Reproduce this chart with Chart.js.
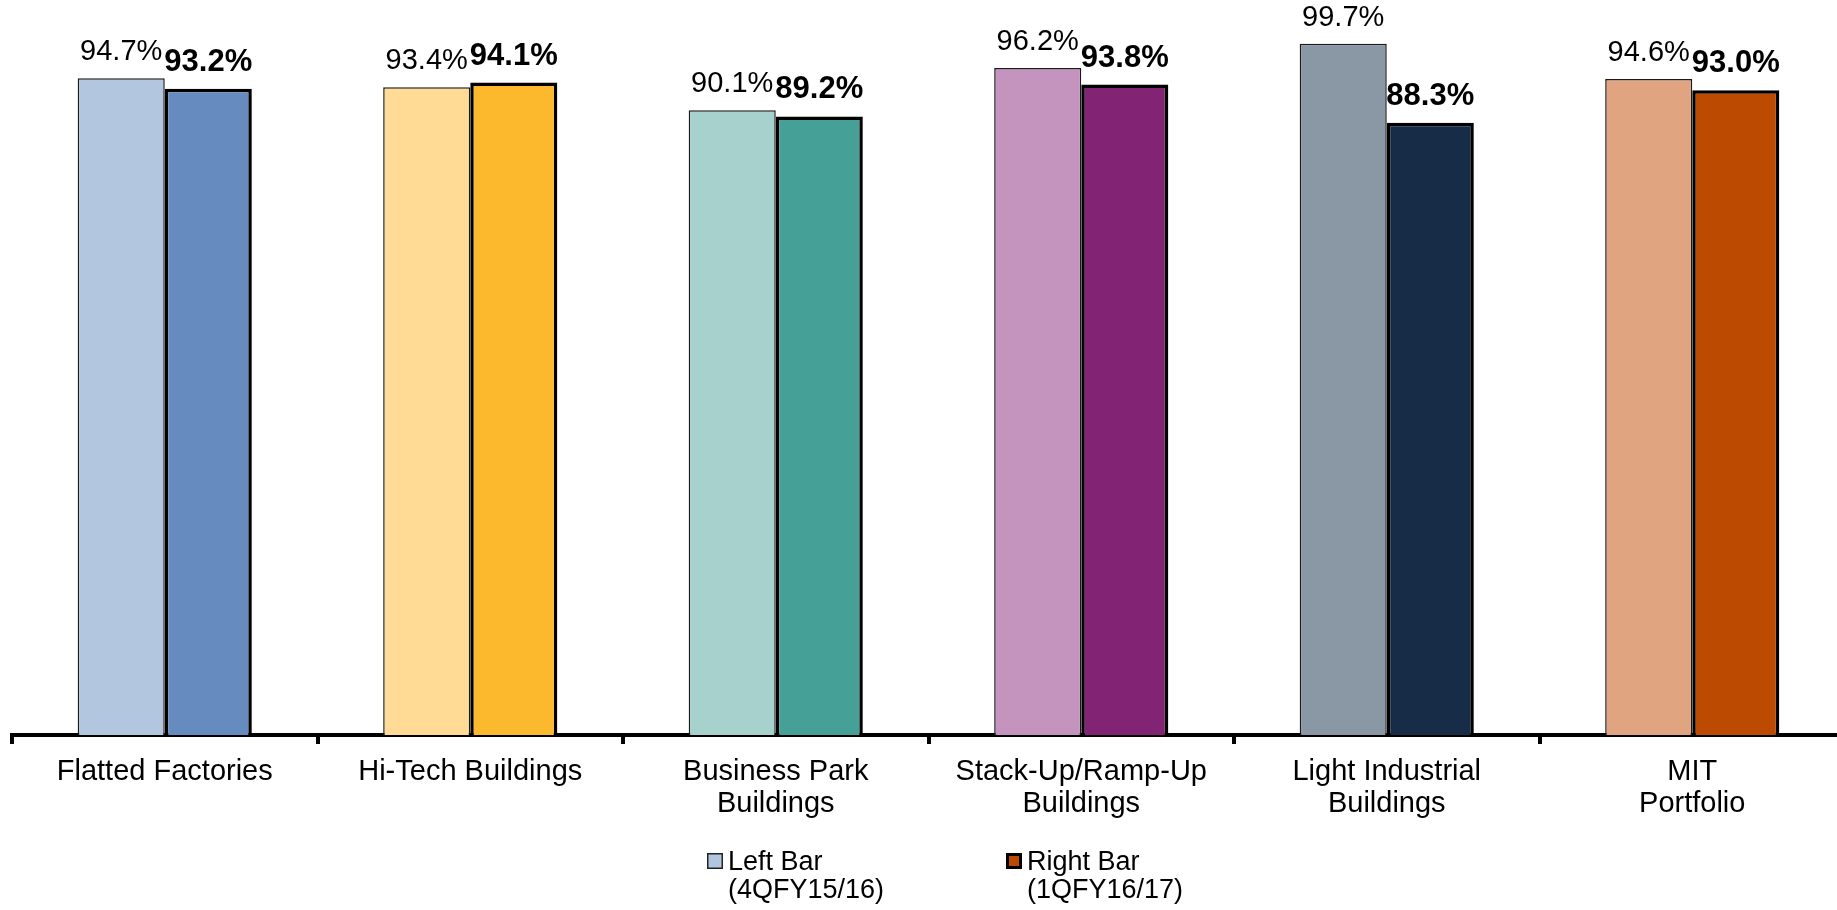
<!DOCTYPE html>
<html>
<head>
<meta charset="utf-8">
<title>Occupancy by property segment</title>
<script src="https://cdn.jsdelivr.net/npm/chart.js@4.4.1/dist/chart.umd.min.js"></script>
<style>
  html, body { margin: 0; padding: 0; background: #fff; overflow: hidden; }
  #wrap { width: 1845px; height: 910px; }
</style>
</head>
<body>
<div id="wrap"><canvas id="chart" width="1845" height="910"></canvas></div>
<script>
// Occupancy per segment
const categories = [
  'Flatted Factories',
  'Hi-Tech Buildings',
  ['Business Park', 'Buildings'],
  ['Stack-Up/Ramp-Up', 'Buildings'],
  ['Light Industrial', 'Buildings'],
  ['MIT', 'Portfolio'],
]
const leftValues = [94.7, 93.4, 90.1, 96.2, 99.7, 94.6]
const rightValues = [93.2, 94.1, 89.2, 93.8, 88.3, 93.0]

const leftColors = ['#b3c6e0', '#ffdb96', '#a6d1cc', '#c494bf', '#8a97a5', '#e0a580']
const rightColors = ['#668cbf', '#fdb92d', '#45a098', '#832373', '#172c46', '#bc4a00']

const leftLegend = ['Left Bar', '(4QFY15/16)']
const rightLegend = ['Right Bar', '(1QFY16/17)']

const FONT = '"Liberation Sans", Arial, Helvetica, sans-serif'

// value labels above each bar; the right series is bold
const barLabels = {
  id: 'barLabels',
  afterDatasetsDraw(chart) {
    const ctx = chart.ctx
    ctx.save()
    ctx.fillStyle = '#000'
    ctx.textAlign = 'center'
    ctx.textBaseline = 'alphabetic'
    chart.data.datasets.forEach((ds, di) => {
      const meta = chart.getDatasetMeta(di)
      ctx.font = di === 1 ? 'bold 31px ' + FONT : '29px ' + FONT
      meta.data.forEach((bar, i) => {
        ctx.fillText(ds.data[i].toFixed(1) + '%', bar.x, bar.y - 18)
      })
    })
    ctx.restore()
  },
}

// two-line legend under the axis labels
const bottomLegend = {
  id: 'bottomLegend',
  afterDraw(chart) {
    const ctx = chart.ctx
    const items = [
      { x: 707, lines: leftLegend, fill: leftColors[0], border: 1.5, stroke: '#222' },
      { x: 1006, lines: rightLegend, fill: rightColors[5], border: 3, stroke: '#000' },
    ]
    ctx.save()
    ctx.font = '27px ' + FONT
    ctx.textAlign = 'left'
    ctx.textBaseline = 'alphabetic'
    items.forEach(it => {
      const b = it.border
      ctx.fillStyle = it.stroke
      ctx.fillRect(it.x, 853, 16, 16)
      ctx.fillStyle = it.fill
      ctx.fillRect(it.x + b, 853 + b, 16 - 2 * b, 16 - 2 * b)
      ctx.fillStyle = '#000'
      it.lines.forEach((t, k) => ctx.fillText(t, it.x + 21, 870 + k * 28))
    })
    ctx.restore()
  },
}

new Chart(document.getElementById('chart'), {
  type: 'bar',
  data: {
    labels: categories,
    datasets: [
      {
        label: leftLegend.join(' '),
        data: leftValues,
        backgroundColor: leftColors,
        borderColor: '#1a1a1a',
        borderWidth: 1.5,
        categoryPercentage: 0.57,
        barPercentage: 1.0,
      },
      {
        label: rightLegend.join(' '),
        data: rightValues,
        backgroundColor: rightColors,
        borderColor: '#000',
        borderWidth: 3.5,
        categoryPercentage: 0.57,
        barPercentage: 1.0,
      },
    ],
  },
  options: {
    responsive: false,
    animation: false,
    devicePixelRatio: 1,
    layout: { padding: { left: 12, right: 0, top: 0, bottom: 0 } },
    plugins: {
      legend: { display: false },
      tooltip: { enabled: false },
    },
    scales: {
      y: { display: false, min: 0, max: 106 },
      x: {
        grid: { offset: true, drawOnChartArea: false, tickLength: 9, lineWidth: 4, color: '#000' },
        border: { display: true, width: 4, color: '#000' },
        ticks: {
          color: '#000',
          font: { family: FONT, size: 29, lineHeight: 1.1 },
          padding: 12,
          maxRotation: 0,
          autoSkip: false,
        },
        afterFit(scale) { scale.height = 175 },
      },
    },
  },
  plugins: [barLabels, bottomLegend],
})
</script>
</body>
</html>
